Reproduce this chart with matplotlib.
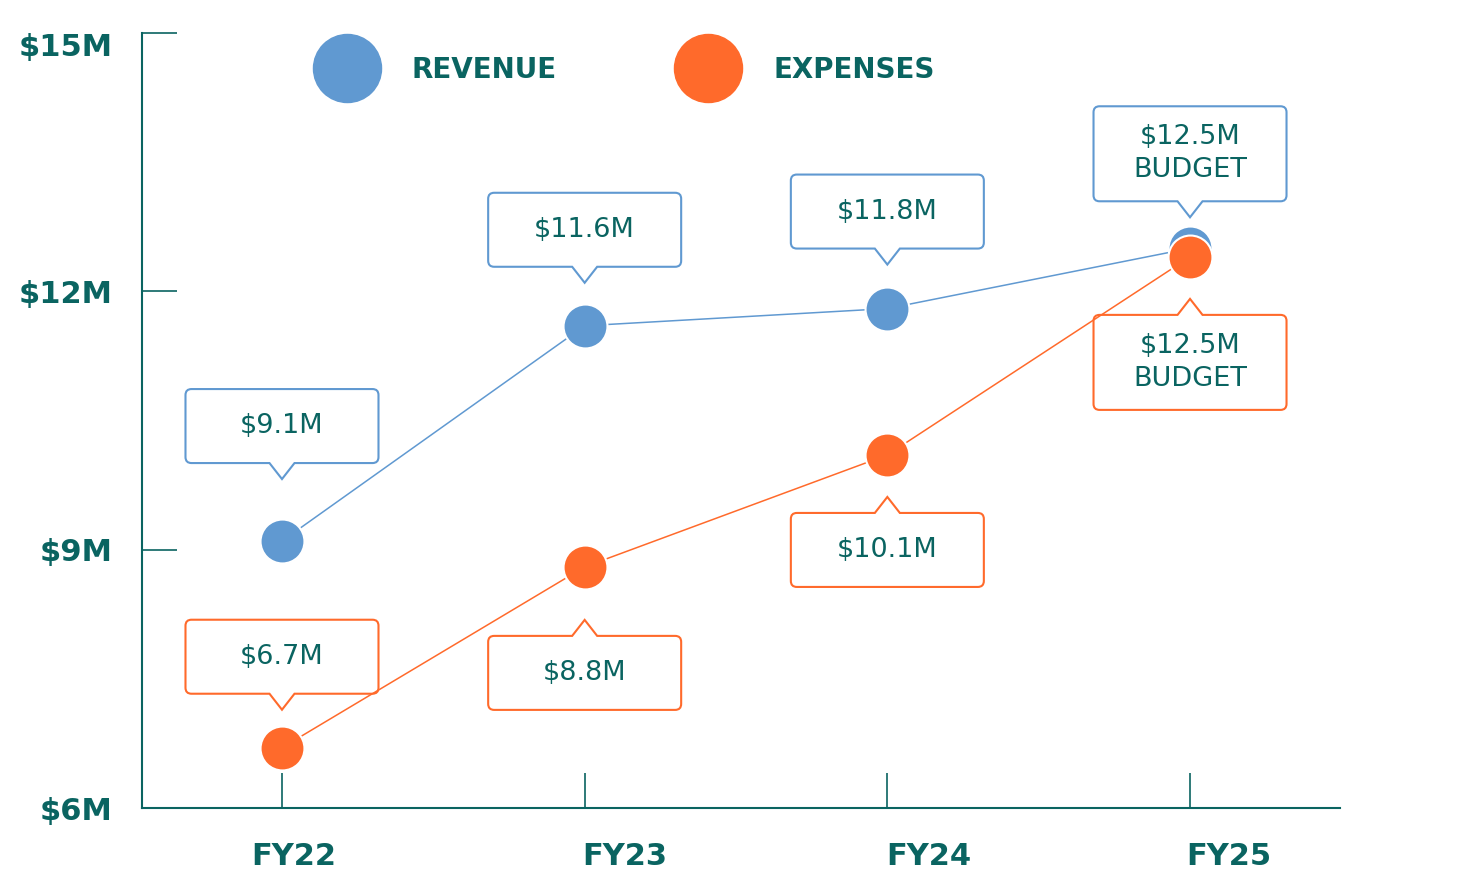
import numpy as np
import matplotlib
matplotlib.use("Agg")
from matplotlib import pyplot as plt
from matplotlib.path import Path
from matplotlib.patches import PathPatch
import matplotlib.transforms as mtransforms

years = ["FY22", "FY23", "FY24", "FY25"]
revenue = [9.1, 11.6, 11.8, 12.5]
expenses = [6.7, 8.8, 10.1, 12.4]
revenue_labels = ["$9.1M", "$11.6M", "$11.8M", "$12.5M\nBUDGET"]
expense_labels = ["$6.7M", "$8.8M", "$10.1M", "$12.5M\nBUDGET"]
y_ticks = [6, 9, 12, 15]
y_tick_labels = ["$6M", "$9M", "$12M", "$15M"]

teal = "#0a6461"
blue = "#6099d1"
orange = "#ff6a2b"

# callout layout: (side, distance from dot centre to pointer tip in px)
rev_layout = [("up", 62), ("up", 43), ("up", 44), ("up", 31)]
exp_layout = [("up", 38), ("down", 53), ("down", 42), ("down", 42)]
xlabel_dx = [12, 40, 41, 39]

plt.rcParams['font.family'] = ['DejaVu Sans']

fig = plt.figure(figsize=(14.8, 8.8), dpi=100)
ax = fig.add_axes([142 / 1480, 72 / 880, 1198 / 1480, 775 / 880])

x = np.arange(len(years))
ax.set_xlim(-0.4625, 3.4955)
ax.set_ylim(6, 15)

for side in ["top", "right"]:
    ax.spines[side].set_visible(False)
for side in ["left", "bottom"]:
    ax.spines[side].set_color(teal)
    ax.spines[side].set_linewidth(1.5)

ax.set_yticks(y_ticks, y_tick_labels)
ax.tick_params(axis="y", direction="in", length=25, width=1.2, color=teal,
               pad=21, labelsize=22, labelcolor=teal)
for lab in ax.get_yticklabels():
    lab.set_fontweight("bold")
ax.get_yticklabels()[-1].set_verticalalignment("top")

ax.set_xticks(x, [""] * len(x))
ax.tick_params(axis="x", direction="in", length=25, width=1.2, color=teal)
for i, yr in enumerate(years):
    tr = mtransforms.offset_copy(ax.transData, fig=fig, x=xlabel_dx[i], y=-48, units="dots")
    ax.text(x[i], 6, yr, transform=tr, ha="center", va="center", fontsize=22,
            fontweight="bold", color=teal, clip_on=False)

ax.plot(x, revenue, color=blue, lw=1.1, zorder=3)
ax.plot(x, expenses, color=orange, lw=1.1, zorder=3)
ax.scatter(x, revenue, s=1000, color=blue, edgecolor="white", linewidth=1.5, zorder=4)
ax.scatter(x, expenses, s=1000, color=orange, edgecolor="white", linewidth=1.5, zorder=5)


def callout(xv, yv, text, side, gap, edge):
    w, pw, ph, r = 193, 25, 16, 6
    h = 95 if "\n" in text else 74
    b = gap + ph
    t = b + h
    hw = w / 2
    verts = [(0, gap), (pw / 2, b), (hw - r, b), (hw, b), (hw, b + r), (hw, t - r),
             (hw, t), (hw - r, t), (-hw + r, t), (-hw, t), (-hw, t - r),
             (-hw, b + r), (-hw, b), (-hw + r, b), (-pw / 2, b), (0, gap)]
    codes = [Path.MOVETO, Path.LINETO, Path.LINETO, Path.CURVE3, Path.CURVE3, Path.LINETO,
             Path.CURVE3, Path.CURVE3, Path.LINETO, Path.CURVE3, Path.CURVE3,
             Path.LINETO, Path.CURVE3, Path.CURVE3, Path.LINETO, Path.CLOSEPOLY]
    sgn = 1 if side == "up" else -1
    verts = [(vx, sgn * vy) for vx, vy in verts]
    tr = mtransforms.IdentityTransform() + mtransforms.ScaledTranslation(xv, yv, ax.transData)
    patch = PathPatch(Path(verts, codes), transform=tr, facecolor="white",
                      edgecolor=edge, lw=1.5, zorder=2, clip_on=False)
    ax.add_artist(patch)
    ttr = mtransforms.offset_copy(ax.transData, fig=fig, x=0, y=sgn * (b + h / 2), units="dots")
    ax.text(xv, yv, text, transform=ttr, ha="center", va="center", fontsize=19.5,
            color=teal, linespacing=1.35, zorder=6, clip_on=False)


for i in range(len(years)):
    callout(x[i], revenue[i], revenue_labels[i], rev_layout[i][0], rev_layout[i][1], blue)
    callout(x[i], expenses[i], expense_labels[i], exp_layout[i][0], exp_layout[i][1], orange)

# legend
for cx, tx, col, name in [(347, 412, blue, "REVENUE"), (708, 773, orange, "EXPENSES")]:
    fig.add_artist(plt.Line2D([cx / 1480], [1 - 68 / 880], marker="o", markersize=49,
                              color=col, transform=fig.transFigure, linestyle="none"))
    fig.text(tx / 1480, 1 - 70 / 880, name, ha="left", va="center", fontsize=20,
             fontweight="bold", color=teal)

fig.savefig("out.png", dpi=100)
